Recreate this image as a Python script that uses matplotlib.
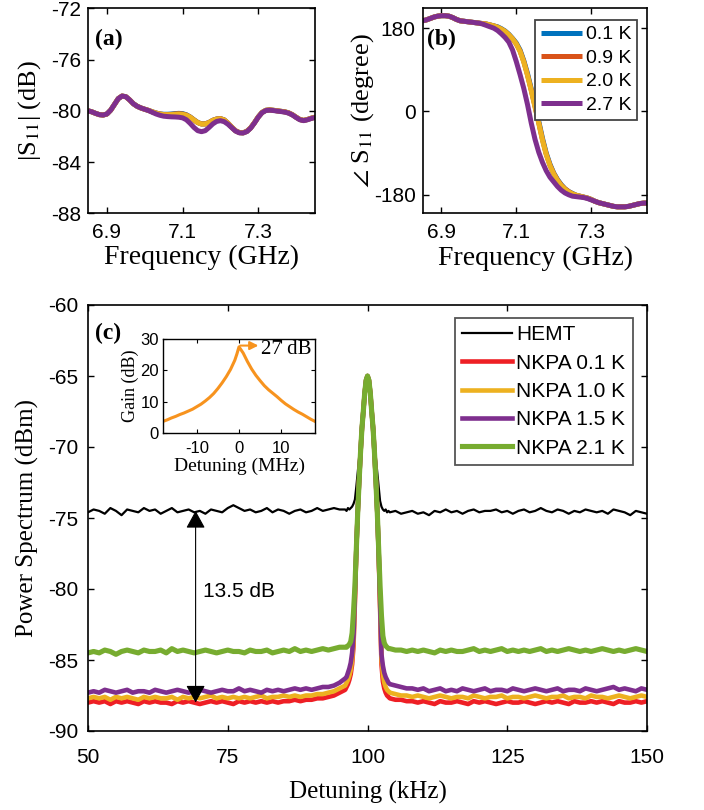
import numpy as np
import matplotlib
matplotlib.use("Agg")
import matplotlib.pyplot as plt

plt.rcParams.update({
    "font.family": "Liberation Sans",
    "mathtext.fontset": "stix",
    "axes.unicode_minus": False,
    "xtick.direction": "in", "ytick.direction": "in",
    "xtick.top": True, "ytick.right": True,
    "axes.linewidth": 1.2,
})
SERIF = "Liberation Serif"

# ---------------- data: (a) |S11| and (b) phase vs frequency ----------------
freq_ghz = np.round(np.arange(6.85, 7.455, 0.01), 2)

s11_db_27K = [
    -80.00, -80.08, -80.20, -80.30, -80.33, -80.25, -79.95, -79.50, -79.05, -78.85,
    -78.90, -79.15, -79.45, -79.65, -79.78, -79.88, -79.98, -80.12, -80.25, -80.35,
    -80.42, -80.45, -80.47, -80.48, -80.50, -80.55, -80.70, -80.98, -81.30, -81.55,
    -81.63, -81.55, -81.30, -81.02, -80.83, -80.77, -80.85, -81.05, -81.32, -81.58,
    -81.72, -81.73, -81.62, -81.35, -80.95, -80.50, -80.15, -79.98, -79.95, -79.98,
    -80.02, -80.06, -80.10, -80.18, -80.32, -80.52, -80.70, -80.77, -80.70, -80.60,
    -80.52]
s11_db_20K = [
    -80.00, -80.08, -80.20, -80.30, -80.33, -80.25, -79.95, -79.50, -79.05, -78.85,
    -78.90, -79.15, -79.45, -79.65, -79.78, -79.88, -79.97, -80.08, -80.18, -80.26,
    -80.30, -80.31, -80.30, -80.28, -80.26, -80.28, -80.35, -80.50, -80.72, -80.92,
    -81.03, -81.03, -80.92, -80.75, -80.65, -80.62, -80.72, -80.98, -81.28, -81.56,
    -81.70, -81.72, -81.60, -81.33, -80.93, -80.48, -80.13, -79.96, -79.93, -79.96,
    -80.00, -80.04, -80.08, -80.16, -80.30, -80.50, -80.68, -80.75, -80.68, -80.58,
    -80.50]
s11_db_09K = [
    -80.00, -80.08, -80.20, -80.30, -80.33, -80.25, -79.95, -79.50, -79.05, -78.85,
    -78.90, -79.15, -79.45, -79.65, -79.78, -79.88, -79.97, -80.08, -80.18, -80.25,
    -80.29, -80.30, -80.28, -80.25, -80.23, -80.25, -80.33, -80.49, -80.71, -80.92,
    -81.03, -81.02, -80.91, -80.74, -80.64, -80.61, -80.71, -80.97, -81.28, -81.56,
    -81.70, -81.72, -81.60, -81.33, -80.93, -80.48, -80.13, -79.96, -79.93, -79.96,
    -80.00, -80.04, -80.08, -80.16, -80.30, -80.50, -80.68, -80.75, -80.68, -80.58,
    -80.50]
s11_db_01K = [
    -80.00, -80.08, -80.20, -80.30, -80.33, -80.25, -79.95, -79.50, -79.05, -78.85,
    -78.90, -79.15, -79.45, -79.65, -79.78, -79.88, -79.97, -80.08, -80.17, -80.24,
    -80.27, -80.27, -80.25, -80.22, -80.20, -80.22, -80.31, -80.48, -80.70, -80.91,
    -81.02, -81.02, -80.91, -80.74, -80.64, -80.61, -80.71, -80.97, -81.28, -81.56,
    -81.70, -81.72, -81.60, -81.33, -80.93, -80.48, -80.13, -79.96, -79.93, -79.96,
    -80.00, -80.04, -80.08, -80.16, -80.30, -80.50, -80.68, -80.75, -80.68, -80.58,
    -80.50]

phase_27K = [
    196, 198, 201, 204, 206, 207, 207, 206, 203, 199,
    196, 195, 194, 193, 192, 191, 189, 186, 183, 180,
    175, 168, 160, 150, 133, 108, 80, 50, 15, -25,
    -60, -88, -110, -128, -142, -152, -162, -170, -176, -180,
    -183, -184, -185, -186, -188, -191, -194, -197, -199, -201,
    -203, -205, -206, -206, -206, -205, -203, -201, -199, -198,
    -198]
phase_20K = [
    196, 198, 201, 204, 206, 207, 207, 206, 203, 199,
    196, 195, 194, 193, 192, 191, 190, 189, 187, 185,
    182, 178, 173, 166, 157, 146, 130, 107, 78, 45,
    10, -25, -62, -93, -117, -135, -149, -160, -168, -174,
    -178, -181, -183, -185, -187, -190, -194, -197, -199, -201,
    -203, -205, -206, -206, -206, -205, -203, -201, -199, -198,
    -198]
phase_09K = [
    196, 198, 201, 204, 206, 207, 207, 206, 203, 199,
    196, 195, 194, 193, 192, 191, 190, 189, 187, 185,
    182, 178, 173, 166, 157, 146, 131, 108, 79, 46,
    11, -24, -61, -92, -116, -134, -148, -159, -167, -173,
    -178, -181, -183, -185, -187, -190, -194, -197, -199, -201,
    -203, -205, -206, -206, -206, -205, -203, -201, -199, -198,
    -198]
phase_01K = [
    196, 198, 201, 204, 206, 207, 207, 206, 203, 199,
    196, 195, 194, 193, 192, 191, 190, 189, 187, 185,
    183, 179, 174, 167, 158, 148, 133, 110, 82, 49,
    14, -21, -58, -90, -114, -133, -147, -158, -167, -173,
    -177, -181, -183, -185, -187, -190, -194, -197, -199, -201,
    -203, -205, -206, -206, -206, -205, -203, -201, -199, -198,
    -198]

temps_ab = ["0.1 K", "0.9 K", "2.0 K", "2.7 K"]
colors_ab = ["#0072BD", "#D95319", "#EDB120", "#7E2F8E"]

# ---------------- data: (c) power spectrum vs detuning ----------------
det_left = np.arange(50, 96)            # 50 ... 95 kHz
det_peak = np.arange(96, 104, 0.25)     # 96 ... 103.75 kHz
det_right = np.arange(104, 151)         # 104 ... 150 kHz

hemt_left = [
    -74.6, -74.4, -74.5, -74.7, -74.3, -74.5, -74.8, -74.4, -74.5, -74.6,
    -74.3, -74.5, -74.4, -74.7, -74.5, -74.3, -74.6, -74.5, -74.4, -74.6,
    -74.5, -74.7, -74.4, -74.5, -74.6, -74.3, -74.1, -74.3, -74.5, -74.4,
    -74.6, -74.5, -74.3, -74.6, -74.4, -74.5, -74.7, -74.5, -74.4, -74.6,
    -74.5, -74.3, -74.5, -74.4, -74.3, -74.4]
hemt_peak = [
    -74.4, -74.5, -74.3, -74.4, -74.3, -74.2, -74.0, -73.7,
    -72.8, -71.8, -70.8, -70.4, -68.7, -67.5, -66.2, -65.3,
    -65.0, -65.3, -66.2, -67.5, -68.7, -70.4, -70.8, -71.8,
    -72.8, -73.8, -74.2, -74.4, -74.5, -74.4, -74.6, -74.5]
hemt_right = [
    -74.6, -74.5, -74.7, -74.6, -74.5, -74.7, -74.6, -74.8, -74.5, -74.6,
    -74.4, -74.6, -74.5, -74.7, -74.5, -74.4, -74.6, -74.5, -74.5, -74.4,
    -74.6, -74.5, -74.7, -74.5, -74.4, -74.6, -74.5, -74.3, -74.5, -74.6,
    -74.4, -74.5, -74.7, -74.5, -74.6, -74.4, -74.5, -74.6, -74.5, -74.7,
    -74.4, -74.5, -74.6, -74.8, -74.5, -74.6, -74.7]

nkpa01_left = [
    -88.0, -87.9, -88.0, -87.9, -88.1, -87.9, -88.0, -87.9, -88.0, -88.1,
    -87.9, -88.0, -87.9, -88.0, -88.0, -88.1, -87.9, -88.0, -87.9, -88.0,
    -88.1, -88.0, -87.9, -88.0, -87.9, -88.0, -88.1, -87.9, -88.0, -87.9,
    -88.0, -87.9, -88.0, -87.9, -88.0, -87.9, -87.9, -87.8, -87.9, -87.8,
    -87.8, -87.7, -87.7, -87.6, -87.5, -87.3]
nkpa01_peak = [
    -87.1, -86.9, -86.7, -86.4, -86.0, -85.3, -84.0, -80.9,
    -77.2, -74.6, -72.4, -70.4, -68.7, -67.5, -66.2, -65.3,
    -65.0, -65.3, -66.2, -67.5, -68.7, -70.4, -72.4, -74.6,
    -77.5, -81.3, -85.3, -86.5, -87.0, -87.3, -87.5, -87.6]
nkpa01_right = [
    -87.7, -87.8, -87.8, -87.9, -87.9, -88.0, -87.9, -88.0, -88.1, -87.9,
    -88.0, -88.0, -87.9, -88.0, -88.1, -87.9, -88.0, -87.9, -88.0, -88.1,
    -88.0, -87.9, -88.0, -88.0, -87.9, -88.0, -88.1, -88.0, -87.9, -88.0,
    -87.9, -88.0, -88.1, -87.9, -88.0, -88.0, -87.9, -88.0, -87.9, -88.0,
    -88.1, -87.9, -88.0, -88.0, -87.9, -88.0, -87.9]

nkpa10_left = [
    -87.7, -87.6, -87.7, -87.6, -87.8, -87.6, -87.7, -87.6, -87.7, -87.8,
    -87.6, -87.7, -87.6, -87.7, -87.7, -87.6, -87.8, -87.6, -87.7, -87.6,
    -87.7, -87.6, -87.5, -87.7, -87.6, -87.7, -87.6, -87.7, -87.6, -87.7,
    -87.6, -87.5, -87.7, -87.6, -87.6, -87.5, -87.6, -87.5, -87.6, -87.5,
    -87.5, -87.4, -87.4, -87.3, -87.2, -87.0]
nkpa10_peak = [
    -86.8, -86.6, -86.4, -86.1, -85.7, -85.0, -83.7, -80.6,
    -77.2, -74.6, -72.4, -70.4, -68.7, -67.5, -66.2, -65.3,
    -65.0, -65.3, -66.2, -67.5, -68.7, -70.4, -72.4, -74.6,
    -77.4, -81.0, -84.9, -86.0, -86.6, -86.9, -87.1, -87.2]
nkpa10_right = [
    -87.3, -87.4, -87.5, -87.5, -87.6, -87.5, -87.6, -87.7, -87.6, -87.5,
    -87.6, -87.7, -87.6, -87.6, -87.7, -87.5, -87.6, -87.7, -87.6, -87.6,
    -87.5, -87.7, -87.6, -87.6, -87.7, -87.6, -87.5, -87.6, -87.7, -87.6,
    -87.6, -87.5, -87.7, -87.6, -87.6, -87.7, -87.5, -87.6, -87.6, -87.7,
    -87.6, -87.5, -87.6, -87.7, -87.6, -87.5, -87.6]

nkpa15_left = [
    -87.3, -87.2, -87.3, -87.1, -87.2, -87.3, -87.2, -87.1, -87.3, -87.2,
    -87.2, -87.3, -87.1, -87.2, -87.3, -87.2, -87.1, -87.2, -87.3, -87.2,
    -87.1, -87.2, -87.3, -87.2, -87.1, -87.2, -87.2, -87.0, -87.2, -87.1,
    -87.2, -87.3, -87.1, -87.2, -87.1, -87.2, -87.1, -87.0, -87.1, -87.0,
    -87.1, -87.0, -86.9, -86.9, -86.8, -86.6]
nkpa15_peak = [
    -86.3, -86.2, -85.9, -85.6, -85.2, -84.5, -83.3, -80.3,
    -77.2, -74.6, -72.4, -70.4, -68.7, -67.5, -66.2, -65.3,
    -65.0, -65.3, -66.2, -67.5, -68.7, -70.4, -72.4, -74.6,
    -77.4, -80.8, -84.6, -85.4, -85.9, -86.2, -86.4, -86.6]
nkpa15_right = [
    -86.7, -86.8, -86.9, -87.0, -87.0, -87.1, -87.0, -87.2, -87.1, -87.0,
    -87.2, -87.1, -87.2, -87.0, -87.1, -87.2, -87.1, -87.0, -87.2, -87.1,
    -87.1, -87.2, -87.0, -87.1, -87.2, -87.1, -87.0, -87.1, -87.2, -87.1,
    -87.0, -87.2, -87.1, -87.1, -87.2, -87.0, -87.1, -87.2, -87.1, -87.0,
    -86.9, -87.1, -87.0, -87.1, -87.2, -87.0, -87.1]

nkpa21_left = [
    -84.5, -84.4, -84.5, -84.3, -84.4, -84.6, -84.4, -84.3, -84.4, -84.5,
    -84.3, -84.4, -84.4, -84.3, -84.5, -84.2, -84.4, -84.3, -84.4, -84.5,
    -84.4, -84.3, -84.4, -84.5, -84.4, -84.3, -84.4, -84.4, -84.5, -84.3,
    -84.4, -84.4, -84.3, -84.5, -84.4, -84.3, -84.4, -84.2, -84.4, -84.3,
    -84.4, -84.3, -84.2, -84.3, -84.2, -84.1]
nkpa21_peak = [
    -84.1, -84.1, -84.0, -83.9, -83.7, -83.1, -81.6, -79.8,
    -77.2, -74.6, -72.4, -70.4, -68.7, -67.5, -66.2, -65.3,
    -65.0, -65.3, -66.2, -67.5, -68.7, -70.4, -72.4, -74.6,
    -77.2, -79.8, -81.9, -83.3, -83.8, -84.0, -84.1, -84.2]
nkpa21_right = [
    -84.2, -84.3, -84.3, -84.4, -84.3, -84.4, -84.3, -84.4, -84.5, -84.3,
    -84.4, -84.3, -84.4, -84.4, -84.3, -84.2, -84.4, -84.3, -84.4, -84.3,
    -84.2, -84.4, -84.3, -84.4, -84.3, -84.4, -84.3, -84.2, -84.4, -84.3,
    -84.4, -84.3, -84.2, -84.3, -84.4, -84.3, -84.4, -84.3, -84.2, -84.3,
    -84.4, -84.3, -84.4, -84.3, -84.2, -84.3, -84.4]

labels_c = ["HEMT", "NKPA 0.1 K", "NKPA 1.0 K", "NKPA 1.5 K", "NKPA 2.1 K"]
colors_c = ["black", "#EE1F25", "#EDB120", "#7E2F8E", "#77AC30"]
widths_c = [1.6, 3.3, 3.3, 3.3, 3.7]

# inset: gain vs pump detuning
gain_mhz = [-18, -17, -16, -15, -14, -13, -12, -11, -10, -9, -8, -7, -6, -5,
            -4, -3, -2, -1, -0.5, 0, 0.5, 1, 2, 3, 4, 5, 6, 7, 8, 9, 10,
            11, 12, 13, 14, 15, 16, 17, 18]
gain_db = [3.7, 4.2, 4.8, 5.3, 5.9, 6.4, 7.0, 7.6, 8.4, 9.2, 10.2, 11.3, 12.6, 14.2,
           16.0, 18.0, 20.3, 23.2, 25.2, 27.5, 26.5, 25.5, 22.8, 20.4, 18.4, 16.7, 15.1,
           13.8, 12.7, 11.6, 10.4, 9.3, 8.4, 7.5, 6.7, 6.0, 5.2, 4.4, 3.7]

# ---------------- figure ----------------
W, H = 704, 810
fig = plt.figure(figsize=(W / 100, H / 100), dpi=100)


def px_rect(l, t, r, b):
    return [l / W, 1 - b / H, (r - l) / W, (b - t) / H]


def style(ax, size=15, pad=5):
    ax.tick_params(which="both", length=4, width=1.0, labelsize=size, pad=pad)


# (a)
ax_a = fig.add_axes(px_rect(88, 8.3, 315, 213.3))
for ys, c in zip([s11_db_01K, s11_db_09K, s11_db_20K, s11_db_27K], colors_ab):
    ax_a.plot(freq_ghz, ys, color=c, lw=3.6, solid_capstyle="butt")
ax_a.set_xlim(6.85, 7.45)
ax_a.set_ylim(-88, -72)
ax_a.set_xticks([6.9, 7.1, 7.3])
ax_a.set_yticks([-88, -84, -80, -76, -72])
style(ax_a, 15, 7)
ax_a.tick_params(axis="y", pad=5)
ax_a.set_xlabel("Frequency (GHz)", family=SERIF, fontsize=20)
ax_a.set_ylabel(r"|S$_{11}$| (dB)", family=SERIF, fontsize=19)
ax_a.xaxis.set_label_coords(0.5, -0.155)
ax_a.yaxis.set_label_coords(-0.20, 0.5)
ax_a.text(0.03, 0.85, "(a)", transform=ax_a.transAxes, family=SERIF,
          fontsize=17, fontweight="bold", va="center")

# (b)
ax_b = fig.add_axes(px_rect(422.7, 8.3, 647.3, 213.3))
for ys, c, t in zip([phase_01K, phase_09K, phase_20K, phase_27K], colors_ab, temps_ab):
    ax_b.plot(freq_ghz, ys, color=c, lw=3.6, label=t, solid_capstyle="butt")
ax_b.set_xlim(6.85, 7.45)
ax_b.set_ylim(-220, 223)
ax_b.set_xticks([6.9, 7.1, 7.3])
ax_b.set_yticks([-180, 0, 180])
style(ax_b, 15, 7)
ax_b.tick_params(axis="y", pad=5)
ax_b.set_xlabel("Frequency (GHz)", family=SERIF, fontsize=20)
ax_b.set_ylabel(r"$\angle$ S$_{11}$ (degree)", family=SERIF, fontsize=19)
ax_b.xaxis.set_label_coords(0.5, -0.16)
ax_b.yaxis.set_label_coords(-0.21, 0.5)
ax_b.text(0.02, 0.85, "(b)", transform=ax_b.transAxes, family=SERIF,
          fontsize=17, fontweight="bold", va="center")
leg_b = ax_b.legend(loc="upper right", bbox_to_anchor=(0.954, 0.943), borderaxespad=0,
                    fontsize=14, handlelength=2.1, handletextpad=0.2, labelspacing=0.3,
                    borderpad=0.3, fancybox=False, framealpha=1)
leg_b.get_frame().set_edgecolor("#444444")
leg_b.get_frame().set_linewidth(1.3)

# (c)
ax_c = fig.add_axes(px_rect(88, 305, 647, 731))
curves_c = [
    (hemt_left, hemt_peak, hemt_right),
    (nkpa01_left, nkpa01_peak, nkpa01_right),
    (nkpa10_left, nkpa10_peak, nkpa10_right),
    (nkpa15_left, nkpa15_peak, nkpa15_right),
    (nkpa21_left, nkpa21_peak, nkpa21_right),
]
det_all = np.concatenate([det_left, det_peak, det_right])
for (yl, yp, yr), c, lab, lw in zip(curves_c, colors_c, labels_c, widths_c):
    ys = np.concatenate([yl, yp, yr])
    ax_c.plot(det_all, ys, color=c, lw=lw, label=lab)
ax_c.set_xlim(50, 150)
ax_c.set_ylim(-90, -60)
ax_c.set_xticks([50, 75, 100, 125, 150])
ax_c.set_yticks([-90, -85, -80, -75, -70, -65, -60])
style(ax_c, 15, 12)
ax_c.tick_params(axis="y", pad=7)
ax_c.set_xlabel("Detuning (kHz)", family=SERIF, fontsize=18)
ax_c.set_ylabel("Power Spectrum (dBm)", family=SERIF, fontsize=18)
ax_c.xaxis.set_label_coords(0.5, -0.118)
ax_c.yaxis.set_label_coords(-0.088, 0.5)
ax_c.text(0.012, 0.934, "(c)", transform=ax_c.transAxes, family=SERIF,
          fontsize=17, fontweight="bold", va="center")
leg_c = ax_c.legend(loc="upper right", bbox_to_anchor=(0.9744, 0.9695), borderaxespad=0,
                    fontsize=15, handlelength=2.4, handletextpad=0.2, labelspacing=0.45,
                    borderpad=0.35, fancybox=False, framealpha=1)
leg_c.get_frame().set_edgecolor("#555555")
leg_c.get_frame().set_linewidth(1.3)

# 13.5 dB gap marker
gap_top, gap_bottom, gap_x = -74.5, -88.0, 69.25
ax_c.annotate("", xy=(gap_x, gap_bottom), xytext=(gap_x, gap_top),
              arrowprops=dict(arrowstyle="<|-|>,head_length=0.4,head_width=0.22",
                              mutation_scale=27, lw=0.8, color="black",
                              shrinkA=0, shrinkB=0))
ax_c.text(gap_x + 1.3, -80.2, f"{gap_top - gap_bottom:.1f} dB", fontsize=15,
          va="center", ha="left")

# inset
ax_in = fig.add_axes(px_rect(163, 339, 315, 433))
ax_in.plot(gain_mhz, gain_db, color="#F7931E", lw=2.2)
ax_in.set_xlim(-18, 18)
ax_in.set_ylim(0, 30)
ax_in.set_xticks([-10, 0, 10])
ax_in.set_yticks([0, 10, 20, 30])
ax_in.tick_params(which="both", length=3, width=0.8, labelsize=12, pad=6)
ax_in.tick_params(axis="y", pad=3)
for sp in ax_in.spines.values():
    sp.set_linewidth(1.0)
ax_in.set_xlabel("Detuning (MHz)", family=SERIF, fontsize=14, labelpad=1)
ax_in.set_ylabel("Gain (dB)", family=SERIF, fontsize=13, labelpad=1)
ax_in.annotate("", xy=(4.6, 27.9), xytext=(0.3, 27.9),
               arrowprops=dict(arrowstyle="-|>,head_length=0.5,head_width=0.25",
                               mutation_scale=10, lw=1.5, color="#F7931E",
                               shrinkA=0, shrinkB=0))
ax_in.text(5.2, 26.6, "27 dB", family=SERIF, fontsize=15, va="center", ha="left")

fig.savefig("out.png", dpi=100)
